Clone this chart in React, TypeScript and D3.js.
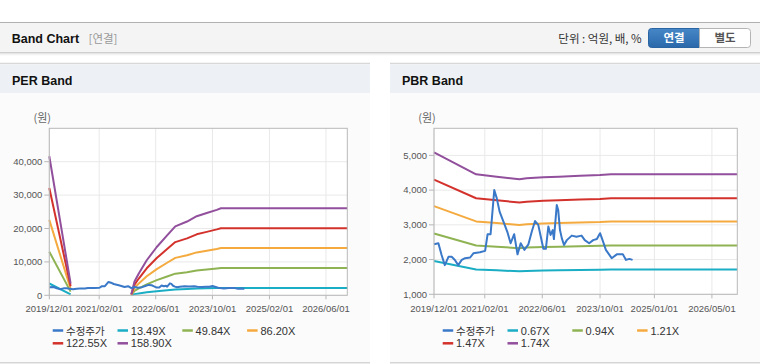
import * as d3 from "d3";

const parse = d3.timeParse("%Y-%m-%d");

// 수정주가 (shared by both charts)
const priceDates = [
  "2019-12-01", "2020-01-07", "2020-02-03", "2020-03-01", "2020-04-01", "2020-04-28", "2020-05-25",
  "2020-06-22", "2020-07-22", "2020-08-19", "2020-10-01", "2020-10-28", "2020-12-22", "2021-02-04",
  "2021-02-25", "2021-03-22", "2021-04-22", "2021-05-13", "2021-06-06", "2021-07-19", "2021-08-10",
  "2021-09-07", "2021-10-07", "2021-11-04", "2021-12-01", "2022-01-01", "2022-02-04", "2022-03-04",
  "2022-04-01", "2022-04-28", "2022-05-13", "2022-06-10", "2022-07-01", "2022-07-22", "2022-08-10",
  "2022-08-28", "2022-09-07", "2022-10-01", "2022-10-13", "2022-10-28", "2022-11-13", "2022-12-01",
  "2022-12-25", "2023-02-04", "2023-03-16", "2023-04-28", "2023-05-25", "2023-07-01", "2023-08-04",
  "2023-09-04", "2023-10-01", "2023-10-22", "2023-11-19", "2024-01-07", "2024-02-19", "2024-04-10",
  "2024-05-07", "2024-06-04", "2024-07-01",
];
const priceValues = [
  2440, 2470, 2130, 1840, 2080, 2080, 1990,
  1840, 1990, 2040, 2060, 2180, 2210, 2250,
  2730, 2730, 4000, 3770, 3380, 3000, 2800,
  2470, 2730, 2150, 2470, 2280, 2440, 2800,
  3110, 3000, 2760, 2310, 2310, 2950, 2710,
  2850, 2590, 3570, 3430, 2850, 2610, 2420,
  2560, 2690, 2660, 2690, 2560, 2470, 2560,
  2590, 2760, 2560, 2280, 2040, 2150, 2150,
  1990, 2020, 1990,
];

// PER band base (EPS); null = no band
const epsDates = [
  "2019-12-01", "2020-06-01", "2021-01-01", "2021-11-04", "2021-12-01", "2022-01-07", "2022-03-16",
  "2022-06-10", "2022-09-07", "2022-11-16", "2023-02-25", "2023-05-19", "2023-08-13", "2023-11-07",
  "2023-12-13", "2026-12-01",
];
const epsValues = [262, 22, null, 2, 26, 41, 66, 91, 113, 130, 139, 149, 155, 161, 164, 164];

// PBR band base (BPS)
const bpsDates = [
  "2019-12-01", "2020-11-20", "2021-05-13", "2021-11-20", "2022-01-20", "2022-06-10", "2022-10-20",
  "2023-04-15", "2023-10-01", "2024-01-01", "2026-12-01",
];
const bpsValues = [2925, 2561, 2521, 2478, 2495, 2511, 2521, 2538, 2549, 2561, 2561];

const perMultiples = [13.49, 49.84, 86.2, 122.55, 158.9];
const pbrMultiples = [0.67, 0.94, 1.21, 1.47, 1.74];
const perNames = ["수정주가", "13.49X", "49.84X", "86.20X", "122.55X", "158.90X"];
const pbrNames = ["수정주가", "0.67X", "0.94X", "1.21X", "1.47X", "1.74X"];
const perYTicks = [0, 10000, 20000, 30000, 40000];
const pbrYTicks = [1000, 2000, 3000, 4000, 5000];
const perXTicks = ["2019-12-01", "2021-02-01", "2022-06-01", "2023-10-01", "2025-02-01", "2026-06-01"];
const pbrXTicks = ["2019-12-01", "2021-02-01", "2022-06-01", "2023-10-01", "2025-01-01", "2026-05-01"];
const colors = ["#3a78c8", "#1aadc4", "#8fb353", "#f4aa3e", "#d3322c", "#914f9c"];

const numFont = "'Liberation Sans', Arial, 'Noto Sans CJK KR', sans-serif";
const krFont = "'Noto Sans CJK KR', 'Liberation Sans', sans-serif";

type P = { date: Date; v: number | null };

function BandPanel(props: {
  x0: number;
  title: string;
  plotLeft: number;
  plotBottom: number;
  yDomain: [number, number];
  yTicks: number[];
  xTicks: string[];
  baseDates: string[];
  baseValues: (number | null)[];
  multiples: number[];
  names: string[];
}) {
  const { x0, title, plotLeft, plotBottom, yDomain, yTicks, xTicks, baseDates, baseValues, multiples, names } = props;
  const plotRight = x0 + 347.3;
  const plotTop = 128.3;

  const x = d3.scaleTime()
    .domain([parse("2019-12-01")!, parse("2026-12-01")!])
    .range([plotLeft, plotRight]);
  const y = d3.scaleLinear().domain(yDomain).range([plotBottom, plotTop]);

  const line = d3.line<P>()
    .defined(p => p.v != null)
    .x(p => x(p.date))
    .y(p => y(p.v as number));

  const bands = multiples.map(m =>
    baseDates.map((d, i) => ({ date: parse(d)!, v: baseValues[i] == null ? null : (baseValues[i] as number) * m }))
  );
  const price: P[] = priceDates.map((d, i) => ({ date: parse(d)!, v: priceValues[i] }));
  const fmt = d3.format(",");

  return (
    <g>
      <rect x={x0} y={64} width={370} height={299} fill="#fbfbfb" />
      <line x1={x0} x2={x0 + 370} y1={63.5} y2={63.5} stroke="#d8d8d8" strokeWidth={1.5} />
      <rect x={x0} y={64.5} width={370} height={28.5} fill="#edf1f6" />
      <text x={x0 + 12} y={85} fontFamily={numFont} fontWeight="bold" fontSize={12.5} fill="#111">{title}</text>
      <line x1={x0} x2={x0 + 370} y1={362.8} y2={362.8} stroke="#d6d6d6" strokeWidth={1.5} />

      <rect x={plotLeft} y={plotTop} width={plotRight - plotLeft} height={plotBottom - plotTop} fill="#fff" />
      {yTicks.map(t => (
        <line key={"gy" + t} x1={plotLeft} x2={plotRight} y1={y(t)} y2={y(t)} stroke="#e9e9e9" />
      ))}
      {xTicks.map(t => (
        <line key={"gx" + t} x1={x(parse(t)!)} x2={x(parse(t)!)} y1={plotTop} y2={plotBottom} stroke="#e9e9e9" />
      ))}

      {bands.map((b, i) => (
        <path key={"b" + i} d={line(b) || ""} fill="none" stroke={colors[i + 1]} strokeWidth={2} strokeLinejoin="round" />
      ))}
      <path d={line(price) || ""} fill="none" stroke={colors[0]} strokeWidth={2} strokeLinejoin="round" />

      <rect x={plotLeft} y={plotTop} width={plotRight - plotLeft} height={plotBottom - plotTop} fill="none" stroke="#b8b8b8" />

      {yTicks.map(t => (
        <g key={"ty" + t}>
          <line x1={plotLeft - 5} x2={plotLeft} y1={y(t)} y2={y(t)} stroke="#b8b8b8" />
          <text x={plotLeft - 7} y={y(t) + 3.3} textAnchor="end" fontFamily={numFont} fontSize={9.5} fill="#555">{fmt(t)}</text>
        </g>
      ))}
      {xTicks.map(t => (
        <g key={"tx" + t}>
          <line x1={x(parse(t)!)} x2={x(parse(t)!)} y1={plotBottom} y2={plotBottom + 4} stroke="#b8b8b8" />
          <text x={x(parse(t)!)} y={311.5} textAnchor="middle" fontFamily={numFont} fontSize={9.5} fill="#555">{t.replace(/-/g, "/")}</text>
        </g>
      ))}
      <text x={plotLeft - 7} y={122} textAnchor="middle" fontFamily={krFont} fontSize={11} fill="#666">(원)</text>

      {names.map((n, i) => {
        const lx = x0 + 52.7 + (i % 4) * 64.8;
        const ly = i < 4 ? 330.5 : 343.3;
        const isKr = i === 0;
        return (
          <g key={"lg" + n}>
            <line x1={lx} x2={lx + 10.5} y1={ly} y2={ly} stroke={colors[i]} strokeWidth={2.5} />
            <text x={lx + 13.3} y={ly + 4} fontFamily={isKr ? krFont : numFont} fontSize={isKr ? 10.5 : 11} fill="#333">{n}</text>
          </g>
        );
      })}
    </g>
  );
}

export default function App() {
  return (
    <svg width={760} height={364} style={{ position: "absolute", left: 0, top: 0 }}>
      <defs>
        <linearGradient id="btnBlue" x1="0" x2="0" y1="0" y2="1">
          <stop offset="0" stopColor="#4687c8" />
          <stop offset="1" stopColor="#2a68aa" />
        </linearGradient>
      </defs>
      <rect x={0} y={0} width={760} height={364} fill="#fff" />

      <rect x={0} y={22.5} width={760} height={30} fill="#f4f4f4" />
      <line x1={0} x2={760} y1={22.5} y2={22.5} stroke="#b0b0b0" />
      <line x1={0} x2={760} y1={52.8} y2={52.8} stroke="#bdbdbd" />
      <line x1={0} x2={760} y1={53.8} y2={53.8} stroke="#e4e4e4" />
      <line x1={0} x2={760} y1={54.8} y2={54.8} stroke="#f1f1f1" />
      <text x={11.7} y={42.7} fontFamily={numFont} fontWeight="bold" fontSize={12.5} fill="#111">Band Chart</text>
      <text x={88.5} y={42.5} fontFamily={krFont} fontSize={11.5} fill="#999">[연결]</text>
      <text x={641.7} y={42.5} textAnchor="end" fontFamily={krFont} fontSize={11.5} fill="#333">단위 : 억원, 배, %</text>

      <path d="M651.5,28.5 H699.5 V47.5 H651.5 Q648.5,47.5 648.5,44.5 V31.5 Q648.5,28.5 651.5,28.5 Z" fill="url(#btnBlue)" stroke="#2a64a3" />
      <path d="M699.5,28.5 H747.5 Q750.5,28.5 750.5,31.5 V44.5 Q750.5,47.5 747.5,47.5 H699.5 Z" fill="#fff" stroke="#b4b4b4" />
      <text x={674} y={42.3} textAnchor="middle" fontFamily={krFont} fontWeight="bold" fontSize={11.5} fill="#fff">연결</text>
      <text x={725} y={42.3} textAnchor="middle" fontFamily={krFont} fontWeight="bold" fontSize={11.5} fill="#555">별도</text>

      <BandPanel
        x0={0}
        title="PER Band"
        plotLeft={49.3}
        plotBottom={295.3}
        yDomain={[0, 50000]}
        yTicks={perYTicks}
        xTicks={perXTicks}
        baseDates={epsDates}
        baseValues={epsValues}
        multiples={perMultiples}
        names={perNames}
      />
      <BandPanel
        x0={390}
        title="PBR Band"
        plotLeft={434}
        plotBottom={294.3}
        yDomain={[1000, 5780]}
        yTicks={pbrYTicks}
        xTicks={pbrXTicks}
        baseDates={bpsDates}
        baseValues={bpsValues}
        multiples={pbrMultiples}
        names={pbrNames}
      />
    </svg>
  );
}
